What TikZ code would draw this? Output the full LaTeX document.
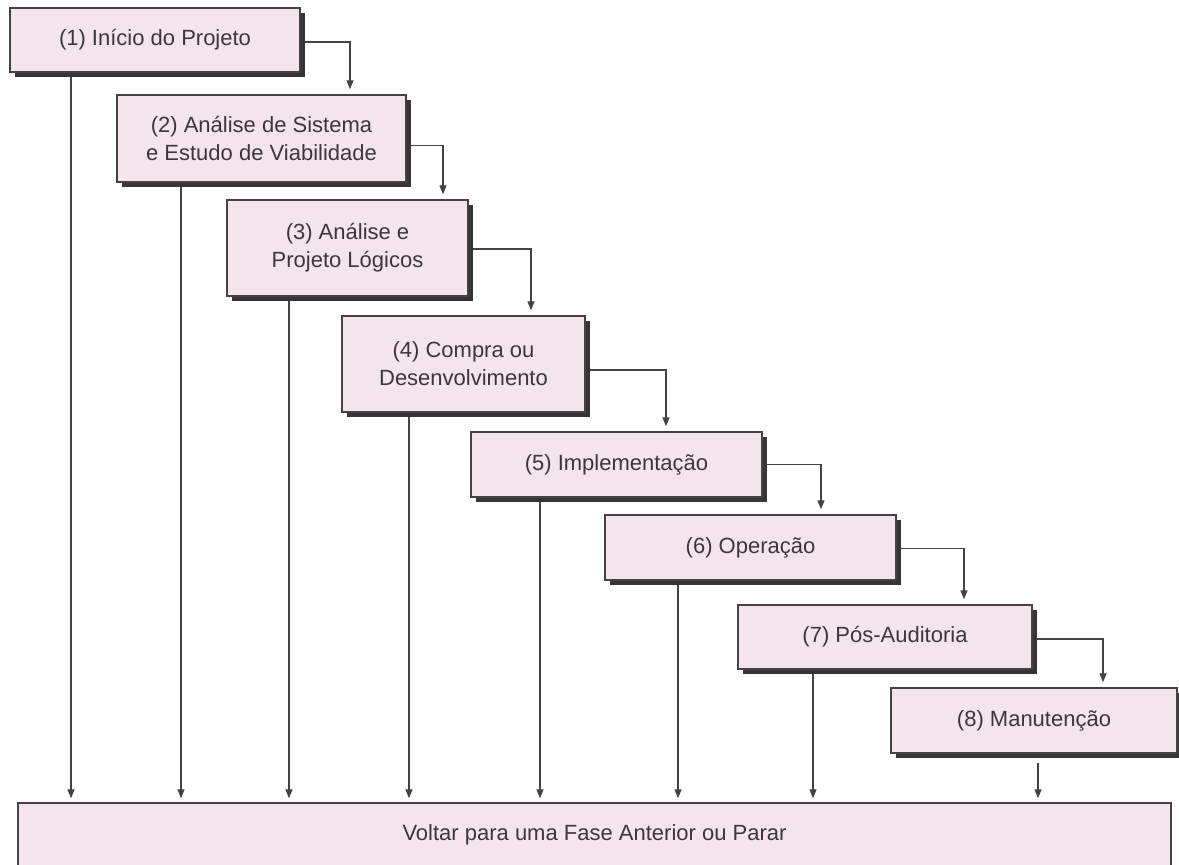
\documentclass[tikz,border=0pt]{standalone}
\usepackage{fontspec}
\setmainfont{Liberation Sans}
\usetikzlibrary{shadows,backgrounds,arrows.meta}
\definecolor{boxfill}{RGB}{243,229,235}
\definecolor{boxline}{RGB}{70,66,68}
\definecolor{shade}{RGB}{55,52,54}
\definecolor{txt}{RGB}{60,55,58}
\begin{document}
\begin{tikzpicture}[x=1pt,y=-1pt,
  phase/.style={draw=boxline, line width=1.4pt, fill=boxfill, text=txt, align=center,
    inner sep=0pt, font=\fontsize{22}{28}\selectfont,
    drop shadow={shadow xshift=5pt, shadow yshift=-5pt, fill=shade, opacity=1}},
  endbox/.style={draw=boxline, line width=1.4pt, fill=boxfill, text=txt, align=center,
    inner sep=0pt, font=\fontsize{22}{28}\selectfont},
  arr/.style={draw=boxline, line width=1.3pt, -{Triangle[length=9pt,width=7pt]}}]
\useasboundingbox (0,0) rectangle (1179,865);

\node[phase, minimum width=290pt, minimum height=64pt] (b1) at (155,40) {(1) Início do Projeto};
\node[phase, minimum width=289pt, minimum height=87pt] (b2) at (261.5,138.5) {(2) Análise de Sistema\\e Estudo de Viabilidade};
\node[phase, minimum width=241pt, minimum height=96pt] (b3) at (347.5,248) {(3) Análise e\\Projeto Lógicos};
\node[phase, minimum width=243pt, minimum height=96pt] (b4) at (463.5,364) {(4) Compra ou\\Desenvolvimento};
\node[phase, minimum width=291pt, minimum height=65pt] (b5) at (616.5,464.5) {(5) Implementação};
\node[phase, minimum width=291pt, minimum height=65pt] (b6) at (750.5,547.5) {(6) Operação};
\node[phase, minimum width=294pt, minimum height=64pt] (b7) at (885,637) {(7) Pós-Auditoria};
\node[phase, minimum width=286pt, minimum height=65pt] (b8) at (1034,720.5) {(8) Manutenção};
\node[endbox, minimum width=1153pt, minimum height=64pt] (bot) at (594.5,835) {Voltar para uma Fase Anterior ou Parar};

\coordinate (c12) at (350,0);
\coordinate (c23) at (443,0);
\coordinate (c34) at (531,0);
\coordinate (c45) at (666,0);
\coordinate (c56) at (821,0);
\coordinate (c67) at (964,0);
\coordinate (c78) at (1103,0);
\coordinate (d1) at (71,0);
\coordinate (d2) at (181,0);
\coordinate (d3) at (289,0);
\coordinate (d4) at (409,0);
\coordinate (d5) at (540,0);
\coordinate (d6) at (678,0);
\coordinate (d7) at (813,0);
\coordinate (d8) at (1038,0);

\begin{scope}[on background layer]
\fill[white] (0,0) rectangle (1179,865);
\draw[arr, shorten >=5pt] ([yshift=-2pt]b1.east) -| (b2.north -| c12);
\draw[arr, shorten >=5pt] ([yshift=-7pt]b2.east) -| (b3.north -| c23);
\draw[arr, shorten >=5pt] ([yshift=-1pt]b3.east) -| (b4.north -| c34);
\draw[arr, shorten >=5pt] ([yshift=-6pt]b4.east) -| (b5.north -| c45);
\draw[arr, shorten >=5pt] (b5.east) -| (b6.north -| c56);
\draw[arr, shorten >=5pt] ([yshift=-1pt]b6.east) -| (b7.north -| c67);
\draw[arr, shorten >=5pt] ([yshift=-2pt]b7.east) -| (b8.north -| c78);
\draw[arr, shorten >=4pt] (b1.south -| d1) -- (bot.north -| d1);
\draw[arr, shorten >=4pt] (b2.south -| d2) -- (bot.north -| d2);
\draw[arr, shorten >=4pt] (b3.south -| d3) -- (bot.north -| d3);
\draw[arr, shorten >=4pt] (b4.south -| d4) -- (bot.north -| d4);
\draw[arr, shorten >=4pt] (b5.south -| d5) -- (bot.north -| d5);
\draw[arr, shorten >=4pt] (b6.south -| d6) -- (bot.north -| d6);
\draw[arr, shorten >=4pt] (b7.south -| d7) -- (bot.north -| d7);
\draw[arr, shorten >=4pt, shorten <=9pt] (b8.south -| d8) -- (bot.north -| d8);
\end{scope}
\end{tikzpicture}
\end{document}
